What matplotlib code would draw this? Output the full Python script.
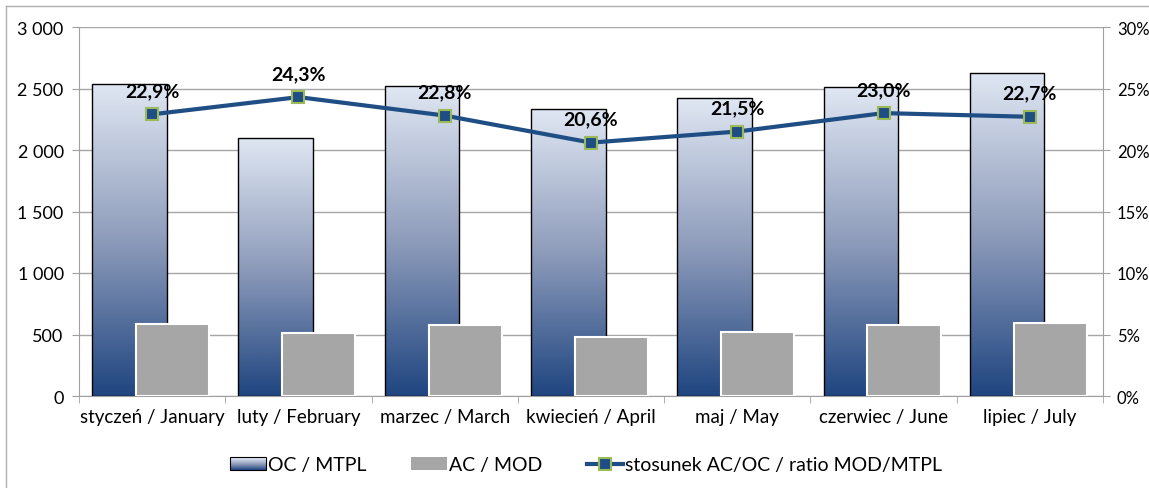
import numpy as np
import matplotlib
matplotlib.use("Agg")
import matplotlib.pyplot as plt
from matplotlib.patches import Rectangle
from matplotlib.lines import Line2D
from matplotlib.legend_handler import HandlerBase
from matplotlib.ticker import FuncFormatter, MultipleLocator
from matplotlib.colors import LinearSegmentedColormap

categories = ["styczeń / January", "luty / February", "marzec / March", "kwiecień / April",
              "maj / May", "czerwiec / June", "lipiec / July"]
oc_mtpl = [2540, 2100, 2520, 2330, 2420, 2510, 2630]
ac_mod = [585, 512, 577, 482, 520, 577, 597]
ratio = [22.9, 24.3, 22.8, 20.6, 21.5, 23.0, 22.7]
ratio_labels = ["22,9%", "24,3%", "22,8%", "20,6%", "21,5%", "23,0%", "22,7%"]

plt.rcParams['font.family'] = ['Lato', 'DejaVu Sans']

W, H = 1149, 489
fig = plt.figure(figsize=(W / 100, H / 100), dpi=100)
ax = fig.add_axes([79 / W, 1 - 397 / H, (1103 - 79) / W, (397 - 28) / H])
ax2 = ax.twinx()

cmap = LinearSegmentedColormap.from_list("g", [(0.0, "#1f4580"), (0.5, "#8e9cbb"), (1.0, "#e0e7f3")])
grad = np.linspace(0, 1, 256).reshape(-1, 1)

x = np.arange(len(categories))
bw = 0.51
oc_bars = ax.bar(x - 0.155, oc_mtpl, width=bw, facecolor="none", edgecolor="black",
                 linewidth=1.0, zorder=3)
for b in oc_bars:
    x0, y0, w, h = b.get_x(), b.get_y(), b.get_width(), b.get_height()
    im = ax.imshow(grad, cmap=cmap, extent=[x0, x0 + w, y0, y0 + h], origin="lower",
                   aspect="auto", zorder=2, interpolation="bicubic")
    im.set_clip_path(b)
ax.bar(x + 0.14, ac_mod, width=0.5, color="#a6a6a6", edgecolor="white", linewidth=1.5, zorder=4)

ax.set_xlim(-0.5, len(categories) - 0.5)
ax.set_ylim(0, 3000)
ax.yaxis.set_major_locator(MultipleLocator(500))
ax.yaxis.set_major_formatter(FuncFormatter(lambda v, p: f"{int(v):,}".replace(",", " ")))
ax.set_xticks(x)
ax.set_xticklabels(categories)
ax.set_xticks(np.arange(-0.5, len(categories)), minor=True)
ax.tick_params(axis="x", which="major", length=0, pad=9, labelsize=13.5)
ax.tick_params(axis="x", which="minor", length=5, color="#a0a0a0")
ax.tick_params(axis="y", length=5, color="#a0a0a0", labelsize=13, pad=6)
ax.grid(axis="y", color="#a6a6a6", linewidth=1.0, zorder=0)
ax.set_axisbelow(True)
for s in ["top", "right"]:
    ax.spines[s].set_visible(False)
ax.spines["left"].set_color("#a0a0a0")
ax.spines["bottom"].set_color("#a0a0a0")

ax2.set_ylim(0, 30)
ax2.yaxis.set_major_locator(MultipleLocator(5))
ax2.yaxis.set_major_formatter(FuncFormatter(lambda v, p: f"{int(v)}%"))
ax2.tick_params(axis="y", length=5, color="#a0a0a0", labelsize=12, pad=5)
for s in ["top", "left", "bottom"]:
    ax2.spines[s].set_visible(False)
ax2.spines["right"].set_color("#a0a0a0")
ax2.plot(x, ratio, color="#1f4e85", linewidth=3, marker="s", markersize=8,
         markerfacecolor="#1f4e85", markeredgecolor="#9bbb59", markeredgewidth=1.5, zorder=5)
for xi, r, lab in zip(x, ratio, ratio_labels):
    ax2.annotate(lab, (xi, r), xytext=(0, 11), textcoords="offset points", ha="center",
                 va="bottom", fontsize=14, fontweight="bold")


class GradHandler(HandlerBase):
    def create_artists(self, legend, orig_handle, xdescent, ydescent, width, height, fontsize, trans):
        arts = []
        n = 12
        for i in range(n):
            c = cmap(1 - (i + 0.5) / n)
            arts.append(Rectangle((-xdescent, -ydescent + height * (1 - (i + 1) / n)), width, height / n,
                                  facecolor=c, edgecolor="none", transform=trans))
        arts.append(Rectangle((-xdescent, -ydescent), width, height, facecolor="none",
                              edgecolor="black", linewidth=0.8, transform=trans))
        return arts


oc_handle = Rectangle((0, 0), 1, 1)
ac_handle = Rectangle((0, 0), 1, 1, facecolor="#a6a6a6", edgecolor="none")
line_handle = Line2D([], [], color="#1f4e85", linewidth=3, marker="s", markersize=8,
                     markerfacecolor="#1f4e85", markeredgecolor="#9bbb59", markeredgewidth=1.5)
fig.legend([oc_handle, ac_handle, line_handle],
           ["OC / MTPL", "AC / MOD", "stosunek AC/OC / ratio MOD/MTPL"],
           handler_map={oc_handle: GradHandler()},
           loc="center", bbox_to_anchor=(586 / W, 1 - 466 / H), ncol=3, frameon=False,
           fontsize=14, handlelength=1.85, handletextpad=0.1, columnspacing=2.3,
           handleheight=0.6)

fig.add_artist(Line2D([6 / W, 6 / W], [0, 1 - 7 / H], transform=fig.transFigure, color="#b0b0b0", linewidth=1))
fig.add_artist(Line2D([6 / W, 1], [1 - 7 / H, 1 - 7 / H], transform=fig.transFigure, color="#b0b0b0", linewidth=1))

fig.savefig("out.png", dpi=100)
